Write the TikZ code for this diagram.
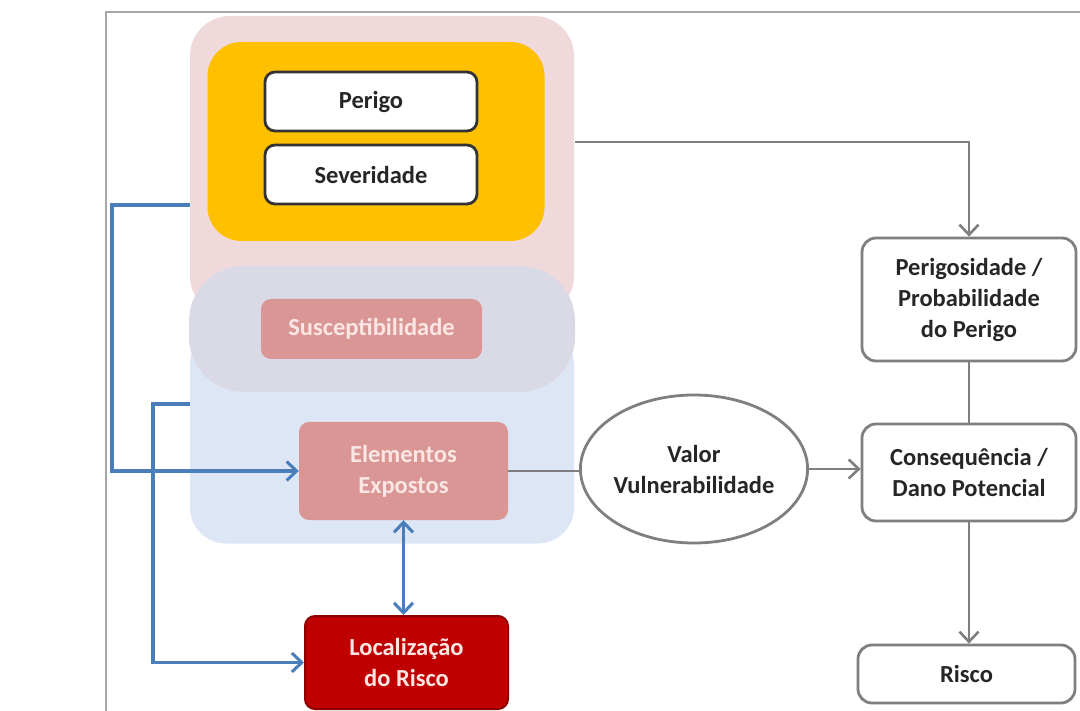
\documentclass[tikz,border=0pt]{standalone}
\usepackage{fontspec}
\setmainfont{Carlito}
\usetikzlibrary{arrows.meta,shapes.geometric}
\definecolor{pinkbg}{HTML}{F0D9DB}
\definecolor{lavbg}{HTML}{D9DAE6}
\definecolor{bluebg}{HTML}{DDE6F4}
\definecolor{orangebg}{HTML}{FFC000}
\definecolor{rosebox}{HTML}{D99694}
\definecolor{rosetext}{HTML}{FBE6E4}
\definecolor{darkred}{HTML}{C00000}
\definecolor{darkredline}{HTML}{8E0000}
\definecolor{grayline}{HTML}{7F7F7F}
\definecolor{blueline}{HTML}{4A7EBB}
\definecolor{framegray}{HTML}{A6A6A6}
\tikzset{
  x=1pt, y=-1pt,
  lbl/.style={font=\fontsize{24.5}{31}\selectfont\bfseries, align=center, inner sep=0pt},
  container/.style={draw=none, inner sep=0pt},
  whitebox/.style={lbl, draw=black!80, line width=2.8pt, fill=white, rounded corners=10pt, text=black!85},
  rosestyle/.style={lbl, fill=rosebox, rounded corners=10pt, text=rosetext},
  redstyle/.style={lbl, fill=darkred, draw=darkredline, line width=2pt, rounded corners=10pt, text=rosetext},
  graybox/.style={lbl, draw=grayline, line width=2.8pt, fill=white, rounded corners=14pt, text=black!85},
  grayconn/.style={draw=grayline, line width=2.8pt},
  grayarrow/.style={grayconn, -{Straight Barb[length=10pt,width=19pt,line width=2.6pt]}},
  bluearrow/.style={draw=blueline, line width=3.4pt, -{Straight Barb[length=10pt,width=19pt,line width=3pt]}},
  bluedouble/.style={draw=blueline, line width=3.4pt, {Straight Barb[length=10pt,width=19pt,line width=3pt]}-{Straight Barb[length=10pt,width=19pt,line width=3pt]}}
}
\begin{document}
\begin{tikzpicture}
\clip (0,0) rectangle (1080,711);
\fill[white] (0,0) rectangle (1080,711);
% frame
\draw[framegray, line width=2.4pt] (106,712) -- (106,12) -- (1081,12);
% containers
\node[container, fill=pinkbg, rounded corners=40pt, minimum width=384pt, minimum height=300pt] (pinkbox) at (382,166) {};
\node[container, fill=bluebg, rounded corners=36pt, minimum width=384pt, minimum height=215pt] (bluebox) at (382,436) {};
\node[container, fill=lavbg, rounded corners=55pt, minimum width=386pt, minimum height=126pt] (lavbox) at (382,329) {};
\node[container, fill=orangebg, rounded corners=34pt, minimum width=337pt, minimum height=199pt] (orange) at (376,141.5) {};
% inner boxes
\node[whitebox, minimum width=212pt, minimum height=59pt] (perigo) at (371,101.5) {Perigo};
\node[whitebox, minimum width=212pt, minimum height=59pt] (sev) at (371,174.5) {Severidade};
\node[rosestyle, minimum width=221pt, minimum height=60pt] (susc) at (371.5,329) {Susceptibilidade};
\node[rosestyle, minimum width=209pt, minimum height=98pt] (elem) at (403.5,471) {Elementos\\Expostos};
\node[redstyle, minimum width=203pt, minimum height=93pt] (loc) at (406.5,662.5) {Localização\\do Risco};
% right column
\node[graybox, minimum width=214pt, minimum height=123pt] (peri) at (969,299.5) {Perigosidade /\\Probabilidade\\do Perigo};
\node[graybox, minimum width=214pt, minimum height=97pt] (cons) at (969,472.5) {Consequência /\\Dano Potencial};
\node[graybox, minimum width=217pt, minimum height=58pt] (risco) at (966.5,674) {Risco};
\node[lbl, ellipse, draw=grayline, line width=2.8pt, fill=white, text=black!85, minimum width=222pt, minimum height=148pt] (valor) at (694,469) {Valor\\Vulnerabilidade};
% connectors
\coordinate (g1) at (575,142);
\draw[grayarrow] (g1) -| (peri.north);
\draw[grayconn] (peri.south) -- (cons.north);
\draw[grayarrow] (cons.south) -- (cons.south |- risco.north);
\draw[grayconn] (elem.east) -- (elem.east -| valor.west);
\draw[grayarrow] (valor.east) -- (valor.east -| cons.west);
\coordinate (b1) at (190,205);
\coordinate (b2) at (190,404);
\draw[bluearrow] (b1) -- ++(-78,0) |- (elem.west);
\draw[bluearrow] (b2) -- ++(-37,0) |- (loc.west);
\draw[bluedouble] (elem.south) -- (elem.south |- loc.north);
\end{tikzpicture}
\end{document}
